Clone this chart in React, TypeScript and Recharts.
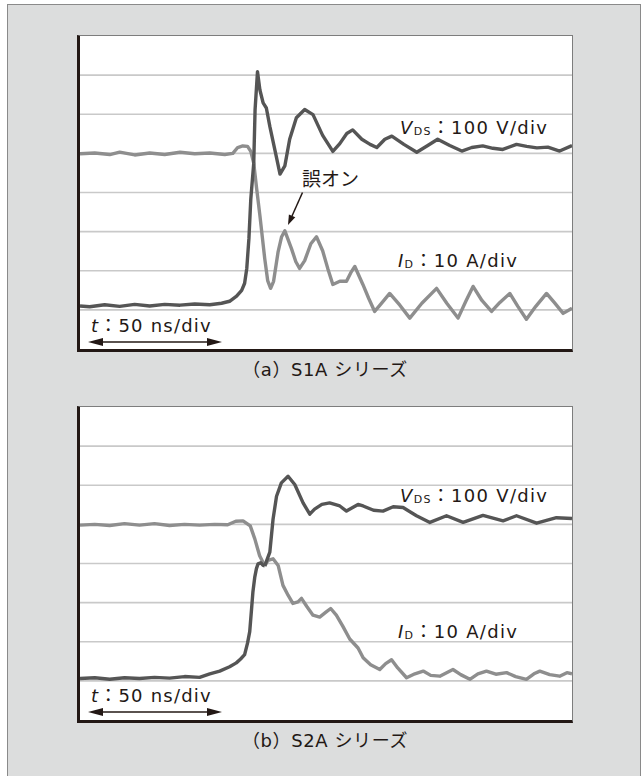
import React from 'react';
import { LineChart, Line, XAxis, YAxis, ReferenceLine } from 'recharts';

// time in ns, level in divisions (0 = bottom of screen, 8 = top)
const gridDivs = [1, 2, 3, 4, 5, 6, 7];

const vdsA: [number, number][] = [
  [1, 4.99], [6.5, 5.01], [12.1, 4.97], [15.8, 5.03], [21.4, 4.96], [27, 5.01], [32.6, 4.97],
  [38.3, 5.03], [43.8, 4.99], [49.4, 5.01], [55, 4.97], [58, 5.0], [59.8, 5.15], [61.7, 5.19],
  [63.5, 5.18], [64.7, 5.05], [65.8, 4.75], [66.3, 6.12], [67.2, 7.09], [68.1, 6.62], [69.3, 6.29],
  [70.5, 6.16], [71.8, 5.69], [73.9, 5.02], [75.6, 4.47], [77.4, 4.68], [79.2, 5.36], [81.7, 5.91],
  [84.8, 6.12], [87.9, 5.99], [91.5, 5.46], [95.3, 5.05], [97.9, 5.25], [100.5, 5.51], [102.7, 5.6],
  [106.1, 5.36], [109.2, 5.23], [111.7, 5.15], [114.7, 5.36], [117.3, 5.44], [121.8, 5.23],
  [126.6, 5.03], [130.7, 5.2], [134.4, 5.36], [138.9, 5.2], [143.4, 5.06], [147.1, 5.15],
  [151.2, 5.19], [155, 5.13], [158.7, 5.1], [163.8, 5.23], [167.6, 5.18], [171.4, 5.14],
  [175.5, 5.16], [179.9, 5.06], [184.5, 5.2],
];

const idA: [number, number][] = [
  [1, 1.1], [4.6, 1.08], [10.2, 1.13], [15.8, 1.09], [21.4, 1.14], [27, 1.1], [32.6, 1.14],
  [38.3, 1.12], [43.8, 1.15], [49.4, 1.13], [53.8, 1.17], [56.8, 1.22], [59.4, 1.35], [61.3, 1.5],
  [62.4, 1.68], [63.2, 2.06], [64, 2.82], [64.7, 3.83], [65.8, 4.75], [66.9, 4.09], [68.1, 3.41],
  [69.9, 2.31], [71, 1.75], [72.1, 1.55], [73.2, 1.73], [74.9, 2.49], [76.2, 2.87], [77.4, 3.02],
  [79.9, 2.56], [81.5, 2.23], [82.9, 2.06], [84.8, 2.26], [87.1, 2.69], [89.2, 2.87], [91.5, 2.51],
  [93.4, 2.06], [95.3, 1.65], [97.9, 1.73], [100.4, 1.73], [102, 1.95], [103.5, 2.11], [106.5, 1.65],
  [108.7, 1.29], [110.9, 0.96], [113.5, 1.17], [116.5, 1.42], [120.3, 1.12], [124, 0.79],
  [128.5, 1.17], [134, 1.55], [137.8, 1.17], [142, 0.79], [144.9, 1.22], [147.6, 1.6], [150.9, 1.24],
  [154.5, 0.96], [157.6, 1.19], [161.3, 1.42], [164.3, 1.09], [167.5, 0.76], [171, 1.09],
  [175, 1.42], [178.1, 1.17], [181.2, 0.91], [184.5, 1.04],
];

const vdsB: [number, number][] = [
  [1, 4.98], [6.5, 5.0], [12.1, 4.97], [17.6, 5.02], [23.2, 4.98], [28.8, 5.02], [34.4, 4.97],
  [40, 5.0], [45.6, 4.98], [51.2, 5.0], [56.1, 4.99], [59.1, 5.08], [61.8, 5.09], [64.5, 4.96],
  [66.2, 4.63], [68, 4.2], [69.9, 3.94], [71.8, 4.29], [73, 5.13], [74.3, 5.72], [76.1, 6.06],
  [78.6, 6.23], [81.1, 6.02], [84.2, 5.55], [86.7, 5.26], [88.5, 5.39], [91.2, 5.51], [94.1, 5.55],
  [97.9, 5.47], [100.4, 5.34], [104.7, 5.51], [106.6, 5.47], [110.5, 5.36], [114, 5.34],
  [117.8, 5.45], [121.5, 5.43], [126.5, 5.22], [131.5, 5.05], [137.7, 5.22], [143.9, 5.05],
  [151.3, 5.23], [158.8, 5.09], [163.8, 5.22], [171.3, 5.03], [178.7, 5.17], [184.5, 5.15],
];

const idB: [number, number][] = [
  [1, 1.06], [6.5, 1.08], [12.1, 1.04], [17.6, 1.08], [23.2, 1.06], [28.8, 1.09], [34.4, 1.07],
  [40, 1.11], [45.6, 1.09], [49.4, 1.18], [53.1, 1.25], [56.8, 1.36], [59.3, 1.46], [60.9, 1.56],
  [62.4, 1.67], [63.5, 1.97], [64.3, 2.26], [65, 2.85], [65.5, 3.28], [66.2, 3.66], [66.8, 3.87],
  [67.4, 3.99], [68.4, 4.02], [69.3, 3.95], [69.9, 3.94], [71.1, 4.08], [73, 4.12], [74.9, 3.95],
  [76.7, 3.44], [78.6, 3.19], [80.4, 2.98], [82.3, 3.02], [83.6, 3.11], [85.6, 2.9], [87.9, 2.68],
  [90.4, 2.63], [92.6, 2.75], [94.5, 2.85], [96.6, 2.68], [99, 2.4], [101.6, 2.07], [104.7, 1.84],
  [106.6, 1.59], [109.4, 1.41], [112.8, 1.29], [115, 1.44], [117.2, 1.54], [119.5, 1.33],
  [122.8, 1.08], [125.9, 1.18], [129, 1.25], [131.8, 1.14], [135.2, 1.12], [140.1, 1.29],
  [143, 1.16], [146.4, 1.04], [149.4, 1.18], [152.6, 1.25], [156.1, 1.17], [160.1, 1.21],
  [163.5, 1.11], [167.5, 1.04], [170.3, 1.18], [172.5, 1.25], [176.2, 1.16], [179.9, 1.12],
  [182.6, 1.21], [184.5, 1.18],
];

// instant where the two traces cross (colour swaps there)
const crossA = 65.8;
const crossB = 69.9;

const DARK = '#555555';
const GRAY = '#8e8e8e';
const GRID = '#c9c9c9';
const INK = '#231815';

const toPts = (arr: [number, number][]) => arr.map(([t, v]) => ({ t, v }));
const before = (arr: [number, number][], c: number) => toPts(arr.filter(([t]) => t <= c));
const after = (arr: [number, number][], c: number) => toPts(arr.filter(([t]) => t >= c));

const Scope = ({ vds, id, cross, top }: { vds: [number, number][]; id: [number, number][]; cross: number; top: number }) => {
  const lp = { type: 'linear' as const, dataKey: 'v', dot: false, strokeWidth: 3.4, strokeLinejoin: 'round' as const, isAnimationActive: false };
  return (
    <div
      style={{
        position: 'absolute', left: 77, top, width: 492, height: 313, background: '#fff',
        borderLeft: `3px solid ${INK}`, borderBottom: `3px solid ${INK}`,
        borderTop: '1px solid #7d7d7d', borderRight: '1px solid #7d7d7d',
      }}
    >
      <LineChart width={492} height={313} margin={{ top: 0, right: 0, bottom: 0, left: 0 }}>
        <XAxis type="number" dataKey="t" domain={[1, 184.5]} hide allowDataOverflow />
        <YAxis type="number" domain={[0, 8]} hide />
        {gridDivs.map((g) => (
          <ReferenceLine key={g} y={g} stroke={GRID} strokeWidth={1.6} />
        ))}
        <Line {...lp} data={before(vds, cross)} stroke={GRAY} />
        <Line {...lp} data={after(id, cross)} stroke={GRAY} />
        <Line {...lp} data={before(id, cross)} stroke={DARK} />
        <Line {...lp} data={after(vds, cross)} stroke={DARK} />
      </LineChart>
    </div>
  );
};

const LAT = '"DejaVu Sans", "Noto Sans CJK JP", sans-serif';
const JP = '"Noto Sans CJK JP", sans-serif';

const VLabel = ({ x, y }: { x: number; y: number }) => (
  <text x={x} y={y} fontFamily={LAT} fontSize={18} fill={INK} letterSpacing={1.3}>
    <tspan fontStyle="italic">V</tspan>
    <tspan fontSize={11} dy={1}>DS</tspan>
    <tspan dy={-1} fontFamily={JP}>：</tspan>
    <tspan>100 V/div</tspan>
  </text>
);

const ILabel = ({ x, y }: { x: number; y: number }) => (
  <text x={x} y={y} fontFamily={LAT} fontSize={18} fill={INK} letterSpacing={1.3}>
    <tspan fontStyle="italic">I</tspan>
    <tspan fontSize={11} dy={1}>D</tspan>
    <tspan dy={-1} fontFamily={JP}>：</tspan>
    <tspan>10 A/div</tspan>
  </text>
);

const TLabel = ({ y }: { y: number }) => (
  <g>
    <text x={91} y={y} fontFamily={LAT} fontSize={18} fill={INK} letterSpacing={1.2}>
      <tspan fontStyle="italic">t</tspan>
      <tspan fontFamily={JP}>：</tspan>
      <tspan>50 ns/div</tspan>
    </text>
    <line x1={100} y1={y + 10} x2={210} y2={y + 10} stroke={INK} strokeWidth={1.5} />
    <polygon points={`88,${y + 10} 103,${y + 6} 103,${y + 14}`} fill={INK} />
    <polygon points={`222,${y + 10} 207,${y + 6} 207,${y + 14}`} fill={INK} />
  </g>
);

export default function App() {
  return (
    <div style={{ position: 'absolute', left: 0, top: 0, width: 644, height: 776, overflow: 'hidden' }}>
      <div
        style={{
          position: 'absolute', left: 7, top: 4, width: 632, height: 790,
          background: '#dcdddd', border: '1.5px solid #8a8a8a',
        }}
      />
      <Scope vds={vdsA} id={idA} cross={crossA} top={35} />
      <Scope vds={vdsB} id={idB} cross={crossB} top={406} />
      <svg width={644} height={776} style={{ position: 'absolute', left: 0, top: 0, pointerEvents: 'none' }}>
        <VLabel x={400} y={134} />
        <ILabel x={398} y={267} />
        <VLabel x={400} y={502} />
        <ILabel x={398} y={638} />
        <TLabel y={332} />
        <TLabel y={702} />
        <text x={302} y={186} fontFamily={JP} fontSize={19} fill={INK}>誤オン</text>
        <line x1={302.5} y1={192.5} x2={292} y2={216} stroke={INK} strokeWidth={1.5} />
        <polygon points="288,225 295.3,217.3 288.9,214.5" fill={INK} />
        <text x={325} y={376} textAnchor="middle" fontFamily={LAT} fontSize={18} letterSpacing={0.6} fill={INK}>（a）S1A シリーズ</text>
        <text x={325} y={747} textAnchor="middle" fontFamily={LAT} fontSize={18} letterSpacing={0.6} fill={INK}>（b）S2A シリーズ</text>
      </svg>
    </div>
  );
}
